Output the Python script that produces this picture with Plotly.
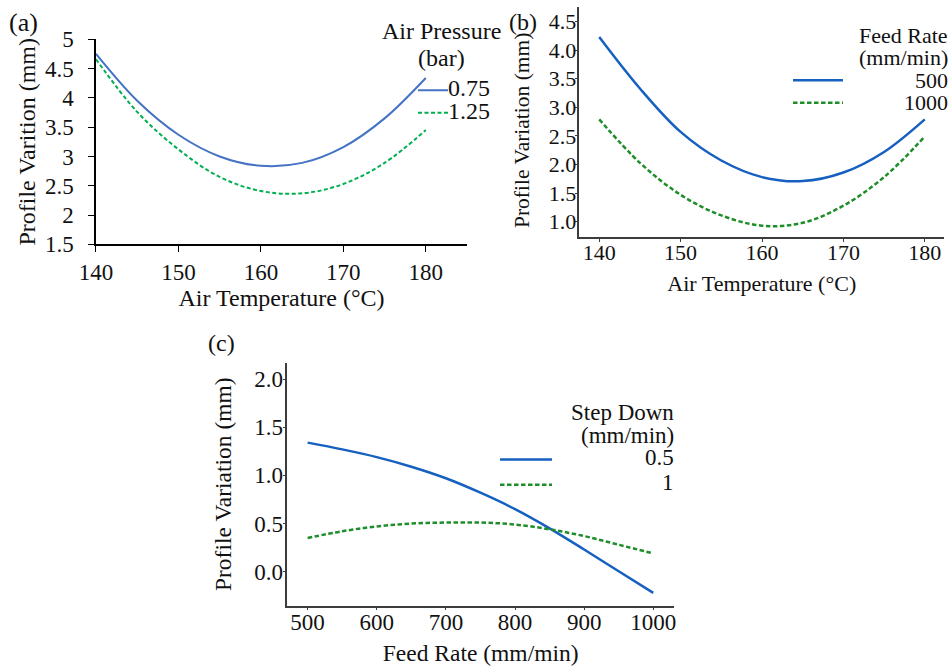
import plotly.graph_objects as go

FONT = "Liberation Serif, Times New Roman, serif"

# ---------------- data ----------------
# (a) Air temperature vs profile variation, by air pressure (bar)
temp_a = [140, 145, 150, 155, 160, 165, 170, 175, 180]
a_p075 = [4.75, 3.95, 3.37, 3.00, 2.84, 2.89, 3.16, 3.65, 4.34]
a_p125 = [4.66, 3.76, 3.12, 2.65, 2.41, 2.37, 2.53, 2.89, 3.45]
a_names = ["0.75", "1.25"]
a_xticks = [140, 150, 160, 170, 180]
a_yticks = [1.5, 2, 2.5, 3, 3.5, 4, 4.5, 5]
a_yticktext = ["1.5", "2", "2.5", "3", "3.5", "4", "4.5", "5"]

# (b) Air temperature vs profile variation, by feed rate (mm/min)
temp_b = [140, 145, 150, 155, 160, 165, 170, 175, 180]
b_f500 = [4.23, 3.33, 2.57, 2.07, 1.78, 1.71, 1.86, 2.22, 2.79]
b_f1000 = [2.79, 2.03, 1.47, 1.11, 0.93, 0.98, 1.28, 1.78, 2.49]
b_names = ["500", "1000"]
b_xticks = [140, 150, 160, 170, 180]
b_yticks = [1.0, 1.5, 2.0, 2.5, 3.0, 3.5, 4.0, 4.5]
b_yticktext = ["1.0", "1.5", "2.0", "2.5", "3.0", "3.5", "4.0", "4.5"]

# (c) Feed rate vs profile variation, by step down
feed_c = [500, 550, 600, 650, 700, 750, 800, 850, 900, 950, 1000]
c_s05 = [1.34, 1.27, 1.19, 1.09, 0.97, 0.82, 0.65, 0.45, 0.23, 0.005, -0.22]
c_s1 = [0.35, 0.42, 0.47, 0.50, 0.51, 0.51, 0.49, 0.44, 0.37, 0.28, 0.19]
c_names = ["0.5", "1"]
c_xticks = [500, 600, 700, 800, 900, 1000]
c_yticks = [0.0, 0.5, 1.0, 1.5, 2.0]
c_yticktext = ["0.0", "0.5", "1.0", "1.5", "2.0"]

# ---------------- styles ----------------
A_BLUE, A_GREEN = "#4472C4", "#00B050"
B_BLUE, B_GREEN = "#1560C0", "#1E8E2A"
AX_GRAY = "#3c3c3c"
TXT = "#111111"
NB = "\u00a0"
W, H = 952, 670


def px(x):
    return x / W


def py(y):
    return 1 - y / H


fig = go.Figure()

series = [
    (temp_a, a_p075, a_names[0], A_BLUE, 2, "solid", "x", "y", "legend"),
    (temp_a, a_p125, a_names[1], A_GREEN, 2, "4px,2.5px", "x", "y", "legend"),
    (temp_b, b_f500, b_names[0], B_BLUE, 2.5, "solid", "x2", "y2", "legend2"),
    (temp_b, b_f1000, b_names[1], B_GREEN, 2.5, "4.5px,2.5px", "x2", "y2", "legend2"),
    (feed_c, c_s05, c_names[0], B_BLUE, 2.5, "solid", "x3", "y3", "legend3"),
    (feed_c, c_s1, c_names[1], B_GREEN, 2.5, "4.5px,2.5px", "x3", "y3", "legend3"),
]
for xs, ys, nm, col, lw, dash, xa, ya, lg in series:
    # legend entries show only the key line; the labels are drawn as text beside them
    fig.add_trace(go.Scatter(x=xs, y=ys, name=NB, mode="lines",
                             line=dict(color=col, width=lw, dash=dash, shape="spline"),
                             xaxis=xa, yaxis=ya, legend=lg, hovertext=nm))


def xax(domain, rng, ticks, color, size, title, tsize, standoff, anchor, ticklen, lstand):
    return dict(domain=domain, range=rng, tickvals=ticks, showline=True, linecolor=color,
                linewidth=1.5, ticks="outside", ticklen=ticklen, tickcolor=color,
                tickfont=dict(size=size, color=TXT), showgrid=False, zeroline=False,
                automargin=False, ticklabelstandoff=lstand,
                title=dict(text=title, font=dict(size=tsize, color=TXT), standoff=standoff),
                anchor=anchor)


def yax(domain, rng, ticks, text, color, size, title, tsize, standoff, anchor, ticklen, lstand):
    return dict(domain=domain, range=rng, tickvals=ticks, ticktext=text, showline=True,
                linecolor=color, linewidth=1.5, ticks="outside", ticklen=ticklen,
                tickcolor=color, tickfont=dict(size=size, color=TXT), showgrid=False,
                zeroline=False, automargin=False, ticklabelstandoff=lstand,
                title=dict(text=title, font=dict(size=tsize, color=TXT), standoff=standoff),
                anchor=anchor)


def leg(x, y, fsize, itemwidth):
    return dict(x=x, y=y, xanchor="left", yanchor="top", bgcolor="rgba(0,0,0,0)",
                font=dict(size=fsize), itemwidth=itemwidth, borderwidth=0,
                tracegroupgap=0)


def note(text, x, y, size, xanchor="left", angle=0):
    return dict(text=text, x=px(x), y=py(y), xref="paper", yref="paper", xanchor=xanchor,
                yanchor="middle", showarrow=False, font=dict(size=size, color=TXT),
                textangle=angle, borderpad=0)


fig.update_layout(
    template="none",
    width=W, height=H, autosize=False,
    margin=dict(l=0, r=0, t=0, b=0, autoexpand=False),
    paper_bgcolor="white", plot_bgcolor="white",
    font=dict(family=FONT, color=TXT),
    showlegend=True,
    xaxis=xax([0.10084, 0.49055], [140, 185], a_xticks, "black", 23,
              "Air Temperature (°C)", 24, 2, "y", 6, 0),
    yaxis=yax([0.63537, 0.94134], [1.5, 5], a_yticks, a_yticktext, "black", 23,
              "Profile Varition (mm)", 24, 2, "x", 6, 10),
    xaxis2=xax([0.60851, 0.99191], [137.55, 182.4], b_xticks, AX_GRAY, 22,
               "Air Temperature (°C)", 22, 11, "y2", 3, -8),
    yaxis2=yax([0.64582, 0.99], [0.727, 4.76], b_yticks, b_yticktext, AX_GRAY, 22,
               "", 22, 2, "x2", 3, -6),
    xaxis3=xax([0.30179, 0.70798], [470.6, 1030], c_xticks, AX_GRAY, 23,
               "Feed Rate (mm/min)", 23.5, 11, "y3", 3, -8),
    yaxis3=yax([0.09597, 0.45866], [-0.353, 2.17], c_yticks, c_yticktext, AX_GRAY, 23,
               "Profile Variation (mm)", 23.5, 16, "x3", 3, -5),
    legend=leg(px(413), py(74), 15, 30),
    legend2=leg(px(788), py(64), 15, 50),
    legend3=leg(px(495), py(442), 17, 52),
    annotations=[
        note("(a)", 8, 23, 26),
        note("(b)", 508, 22, 24),
        note("(c)", 207, 343, 24),
        # panel (b) y-axis title
        note("Profile Variation (mm)", 522, 131, 21.5, xanchor="center", angle=-90),
        # legend (a)
        note("Air Pressure", 441, 31, 24, xanchor="center"),
        note("(bar)", 441, 58, 24, xanchor="center"),
        note(a_names[0], 447, 88, 24),
        note(a_names[1], 447, 111, 24),
        # legend (b)
        note("Feed Rate", 949, 35, 22, xanchor="right"),
        note("(mm/min)", 949, 57, 22, xanchor="right"),
        note(b_names[0], 949, 80, 22, xanchor="right"),
        note(b_names[1], 949, 103, 22, xanchor="right"),
        # legend (c)
        note("Step Down", 675, 412, 23, xanchor="right"),
        note("(mm/min)", 675, 435, 23, xanchor="right"),
        note(c_names[0], 675, 458, 23, xanchor="right"),
        note(c_names[1], 675, 483, 23, xanchor="right"),
    ],
)

fig.write_html(
    "out.html",
    config={"displayModeBar": False},
    post_script="document.body.style.margin='0px';document.body.style.overflow='hidden';",
)
